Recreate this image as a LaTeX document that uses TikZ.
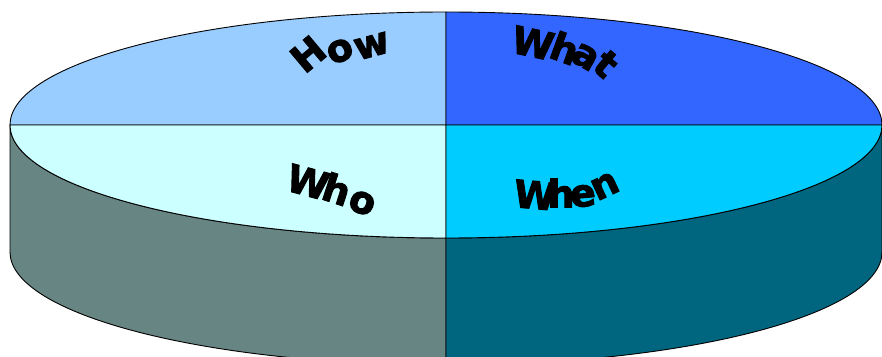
\documentclass[tikz,border=0pt]{standalone}
\usepackage{fontspec}
\newfontfamily\wordfont{DejaVu Sans Bold}[FakeBold=2.5]

\definecolor{howblue}{HTML}{99CCFF}
\definecolor{whatblue}{HTML}{3366FF}
\definecolor{whocyan}{HTML}{CCFFFF}
\definecolor{whencyan}{HTML}{00CCFF}
\definecolor{sidegray}{HTML}{678582}
\definecolor{sideteal}{HTML}{006680}

\tikzset{
	rim/.style={draw=black, line width=0.9pt, line join=round},
	letter/.style={inner sep=0pt, font=\wordfont\fontsize{38}{38}\selectfont}
}

\begin{document}
\begin{tikzpicture}[x=1pt, y=1pt]
	\useasboundingbox (0,0) rectangle (882,356);
	\clip (0,0) rectangle (882,356);
	\coordinate (C) at (446,231);
	% side of the disc
	\draw[rim, fill=sidegray] (10,231) -- (10,104) arc[start angle=180, end angle=270, x radius=436, y radius=113]
		-- (446,118) arc[start angle=270, end angle=180, x radius=436, y radius=113] -- cycle;
	\draw[rim, fill=sideteal] (446,-9) arc[start angle=270, end angle=360, x radius=436, y radius=113]
		-- (882,231) arc[start angle=0, end angle=-90, x radius=436, y radius=113] -- cycle;
	% top face
	\draw[rim, fill=howblue] (C) -- (10,231) arc[start angle=180, end angle=90, x radius=436, y radius=113] -- cycle;
	\draw[rim, fill=whatblue] (C) -- (446,344) arc[start angle=90, end angle=0, x radius=436, y radius=113] -- cycle;
	\draw[rim, fill=whocyan] (C) -- (10,231) arc[start angle=180, end angle=270, x radius=436, y radius=113] -- cycle;
	\draw[rim, fill=whencyan] (C) -- (446,118) arc[start angle=270, end angle=360, x radius=436, y radius=113] -- cycle;
	% words
	\foreach \ch/\x/\y/\r [count=\i] in {H/308/302/40, o/340/305/25, w/372/310/15}
		\node[letter, rotate=\r] (how\i) at (\x,\y) {\ch};
	\foreach \ch/\x/\y/\r [count=\i] in {W/533/313/-12, h/565/308/-20, a/585/299/-30, t/606/292/-40}
		\node[letter, rotate=\r] (what\i) at (\x,\y) {\ch};
	\foreach \ch/\x/\y/\r [count=\i] in {W/308/174/-15, h/337/167/-18, o/362/153/-22}
		\node[letter, rotate=\r] (who\i) at (\x,\y) {\ch};
	\foreach \ch/\x/\y/\r [count=\i] in {W/535/161/-5, h/561/163/0, e/583/160/5, n/605/170/25}
		\node[letter, rotate=\r] (when\i) at (\x,\y) {\ch};
\end{tikzpicture}
\end{document}
